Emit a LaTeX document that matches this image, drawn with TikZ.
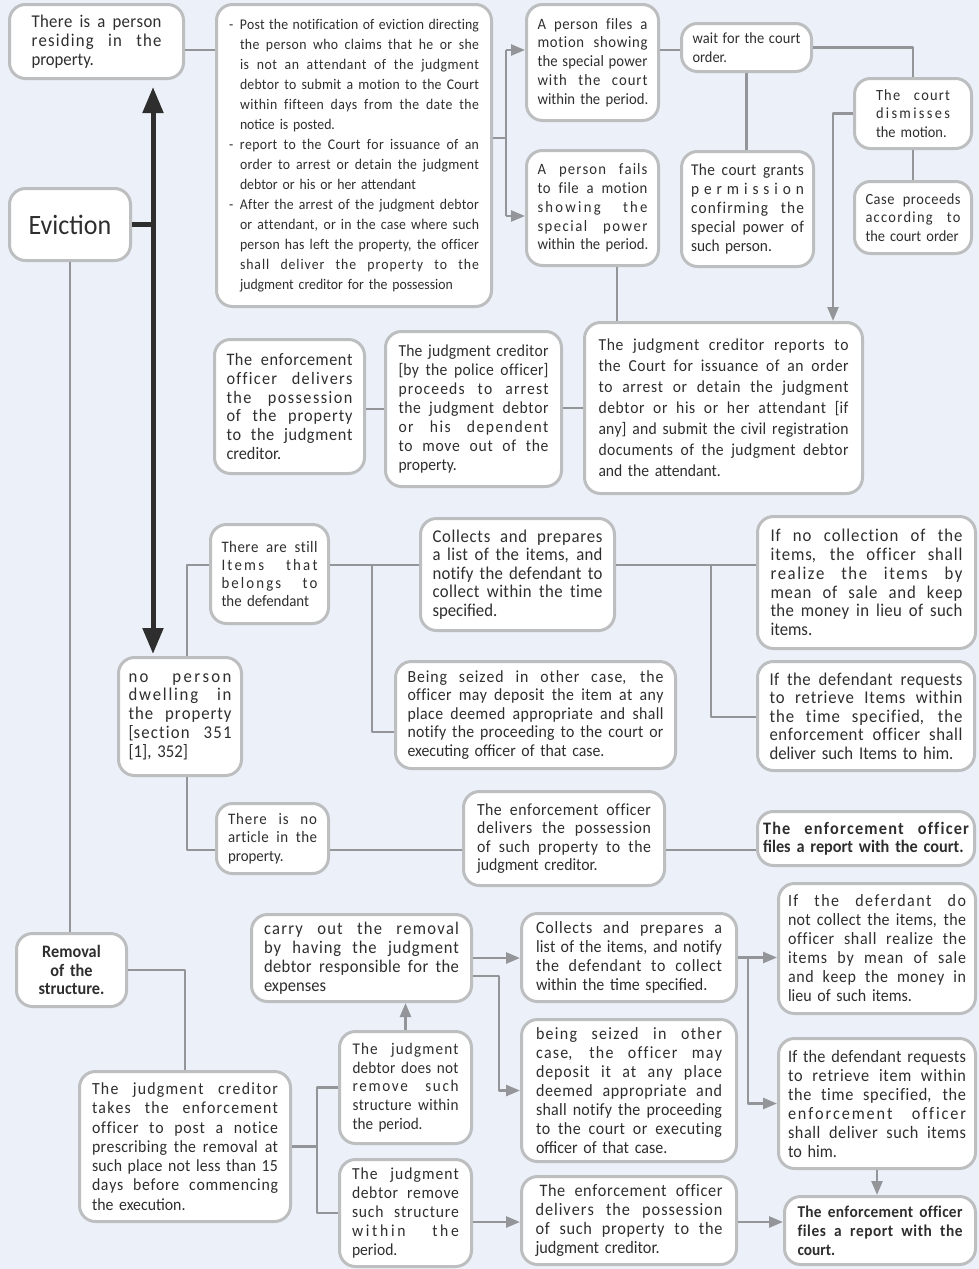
\documentclass[tikz,border=0pt]{standalone}
\usepackage{fontspec}
\setmainfont{Carlito}[FakeStretch=0.93]
\usetikzlibrary{arrows.meta}
\definecolor{bgblue}{HTML}{ECF1F9}
\definecolor{boxline}{HTML}{BCBEC0}
\definecolor{wiregray}{HTML}{939598}
\definecolor{ink}{HTML}{2E2E2E}
\count255=`a
\loop\XeTeXcharclass\count255=7 \ifnum\count255<`z\advance\count255 by 1\repeat
\count255=`A
\loop\XeTeXcharclass\count255=7 \ifnum\count255<`Z\advance\count255 by 1\repeat
\count255=`0
\loop\XeTeXcharclass\count255=7 \ifnum\count255<`9\advance\count255 by 1\repeat
\XeTeXinterchartoks 7 7 = {\hskip 0pt plus .12fil\relax}
\newcommand\tw{100pt}
\newcommand\jl[1]{\makebox[\tw][s]{\XeTeXinterchartokenstate=1 \spaceskip=.23em plus 1fil minus .04em\xspaceskip=\spaceskip #1}\\\relax}
\hyphenpenalty=10000
\begin{document}
\begin{tikzpicture}[x=1pt, y=-1pt, line join=round,
	box/.style={draw=boxline, line width=3pt, fill=white, rounded corners=16pt, inner xsep=2pt, inner ysep=2pt, align=left, text=ink},
	wh/.style n args={3}{minimum width=#1, minimum height=#2, text width=#3, execute at begin node={\renewcommand\tw{#3pt}}},
	fs/.style 2 args={font=\fontsize{#1}{#2}\selectfont},
	fsb/.style 2 args={font=\fontsize{#1}{#2}\selectfont\bfseries},
	wire/.style={draw=wiregray, line width=2.5pt},
	arr/.style={wire, -{Triangle[length=14pt,width=11pt]}},
	big/.style={draw=ink, line width=5pt}]
	\useasboundingbox (0,0) rectangle (979,1269);
	\fill[bgblue] (0,0) rectangle (979,1269);
	% eviction, person residing
	\node[box, minimum width=121, minimum height=72, fs={28}{30}] (evic) at (70,224.5) {Eviction};
	\node[box, wh={174}{74}{130}, fs={18}{19}] (start) at (96.5,41.5) {\jl{There is a person}\jl{residing in the}property.};
	\node[box, wh={275}{302}{250}, fs={14.8}{20}] (post) at (354,155.5) {%
		\jl{\makebox[11pt][l]{-}Post the notification of eviction directing}
		\jl{\hspace*{11pt}the person who claims that he or she}
		\jl{\hspace*{11pt}is not an attendant of the judgment}
		\jl{\hspace*{11pt}debtor to submit a motion to the Court}
		\jl{\hspace*{11pt}within fifteen days from the date the}
		\hspace*{11pt}notice is posted.\\
		\jl{\makebox[11pt][l]{-}report to the Court for issuance of an}
		\jl{\hspace*{11pt}order to arrest or detain the judgment}
		\hspace*{11pt}debtor or his or her attendant\\
		\jl{\makebox[11pt][l]{-}After the arrest of the judgment debtor}
		\jl{\hspace*{11pt}or attendant, or in the case where such}
		\jl{\hspace*{11pt}person has left the property, the officer}
		\jl{\hspace*{11pt}shall deliver the property to the}
		\hspace*{11pt}judgment creditor for the possession};
	\node[box, wh={132}{116}{110}, fs={15.8}{18.8}] (files) at (592.5,62.5) {\jl{A person files a}\jl{motion showing}\jl{the special power}\jl{with the court}\mbox{within the period.}};
	\node[box, wh={132}{115}{110}, fs={15.8}{18.8}] (fails) at (592.5,208) {\jl{A person fails}\jl{to file a motion}\jl{showing the}\jl{special power}\mbox{within the period.}};
	\node[box, wh={130}{48}{108}, fs={15.5}{19}] (wait) at (746.5,47.5) {\jl{wait for the court}order.};
	\node[box, wh={132}{115}{113}, fs={16.5}{18.8}] (grants) at (747.5,209) {\jl{The court grants}\jl{permission}\jl{confirming the}\jl{special power of}such person.};
	\node[box, wh={117}{70}{74}, fs={15.5}{18.5}] (dismiss) at (913,113.5) {\jl{The court}\jl{dismisses}the motion.};
	\node[box, wh={117}{72}{95}, fs={15.5}{18.3}] (caseproc) at (913,217.5) {\jl{Case proceeds}\jl{according to}\mbox{the court order}};
	% arrest row
	\node[box, wh={150}{134}{126}, fs={17.5}{18.7}] (enfdel) at (289.5,406.5) {\jl{The enforcement}\jl{officer delivers}\jl{the possession}\jl{of the property}\jl{to the judgment}creditor.};
	\node[box, wh={176}{155}{150}, fs={16.8}{19}] (police) at (473.5,409) {\jl{The judgment creditor}\jl{[by the police officer]}\jl{proceeds to arrest}\jl{the judgment debtor}\jl{or his dependent}\jl{to move out of the}property.};
	\node[box, wh={278}{171}{250}, fs={16.8}{21}] (reports) at (723.5,408) {\jl{The judgment creditor reports to}\jl{the Court for issuance of an order}\jl{to arrest or detain the judgment}\jl{debtor or his or her attendant [if}\jl{any] and submit the civil registration}\jl{documents of the judgment debtor}and the attendant.};
	% no person dwelling
	\node[box, wh={123}{118}{103}, fs={18}{18.7}] (nperson) at (180,716.5) {\jl{no person}\jl{dwelling in}\jl{the property}\jl{[section 351}[1], 352]};
	\node[box, wh={118}{99}{96}, fs={16}{18.3}] (items) at (269.5,574) {\jl{There are still}\jl{Items that}\jl{belongs to}the defendant};
	\node[box, wh={194}{112}{170}, fs={18}{18.5}] (collects1) at (517.5,574.5) {\jl{Collects and prepares}\jl{a list of the items, and}\jl{notify the defendant to}\jl{collect within the time}specified.};
	\node[box, wh={218}{132}{192}, fs={18}{18.7}] (ifno) at (866.5,582.5) {\jl{If no collection of the}\jl{items, the officer shall}\jl{realize the items by}\jl{mean of sale and keep}\jl{the money in lieu of such}items.};
	\node[box, wh={280}{107}{256}, fs={17}{18.5}] (seized1) at (535.5,715) {\jl{Being seized in other case, the}\jl{officer may deposit the item at any}\jl{place deemed appropriate and shall}\jl{notify the proceeding to the court or}executing officer of that case.};
	\node[box, wh={217}{109}{193}, fs={18}{18.5}] (requests1) at (866,716) {\jl{If the defendant requests}\jl{to retrieve Items within}\jl{the time specified, the}\jl{enforcement officer shall}deliver such Items to him.};
	\node[box, wh={112}{70}{89}, fs={16}{18.3}] (noart) at (272.5,838.5) {\jl{There is no}\jl{article in the}property.};
	\node[box, wh={201}{94}{174}, fs={17}{18.5}] (deliver2) at (564,838.5) {\jl{The enforcement officer}\jl{delivers the possession}\jl{of such property to the}judgment creditor.};
	\node[box, wh={217}{54}{206}, fsb={17.5}{18.5}] (report1) at (866,838.5) {\jl{The enforcement officer}\mbox{files a report with the court.}};
	% removal of the structure
	\node[box, wh={110}{73}{100}, fsb={17.5}{18.5}, align=center] (removal) at (71.5,970) {Removal\\of the\\structure.};
	\node[box, wh={211}{150}{186}, fs={17}{19.3}] (creditor) at (185,1146.5) {\jl{The judgment creditor}\jl{takes the enforcement}\jl{officer to post a notice}\jl{prescribing the removal at}\jl{such place not less than 15}\jl{days before commencing}the execution.};
	\node[box, wh={220}{87}{195}, fs={17.8}{19}] (carry) at (361.5,958) {\jl{carry out the removal}\jl{by having the judgment}\jl{debtor responsible for the}expenses};
	\node[box, wh={132}{112}{106}, fs={16.3}{18.8}] (notrem) at (405.5,1087.5) {\jl{The judgment}\jl{debtor does not}\jl{remove such}\jl{structure within}the period.};
	\node[box, wh={132}{107}{107}, fs={16.8}{18.8}] (remove) at (405.5,1213) {\jl{The judgment}\jl{debtor remove}\jl{such structure}\jl{within the}period.};
	\node[box, wh={215}{88}{186}, fs={17.2}{19}] (collects2) at (629,957.5) {\jl{Collects and prepares a}\jl{list of the items, and notify}\jl{the defendant to collect}\mbox{within the time specified.}};
	\node[box, wh={215}{142}{186}, fs={17.2}{19}] (seized2) at (629,1090.5) {\jl{being seized in other}\jl{case, the officer may}\jl{deposit it at any place}\jl{deemed appropriate and}\jl{shall notify the proceeding}\jl{to the court or executing}officer of that case.};
	\node[box, wh={215}{88}{187}, fs={17.5}{19}] (deliver3) at (629,1220.5) {\jl{\hspace*{4pt}The enforcement officer}\jl{delivers the possession}\jl{of such property to the}judgment creditor.};
	\node[box, wh={197}{130}{178}, fs={17.2}{19}] (deferd) at (877,948.5) {\jl{If the deferdant do}\jl{not collect the items, the}\jl{officer shall realize the}\jl{items by mean of sale}\jl{and keep the money in}lieu of such items.};
	\node[box, wh={197}{130}{178}, fs={17.5}{19}] (requests2) at (877,1103.5) {\jl{If the defendant requests}\jl{to retrieve item within}\jl{the time specified, the}\jl{enforcement officer}\jl{shall deliver such items}to him.};
	\node[box, wh={191}{68}{165}, fsb={16.5}{19}] (report2) at (880,1230.5) {\jl{The enforcement officer}\jl{files a report with the}court.};
	% rails
	\coordinate (ax) at (153,0);
	\coordinate (r1) at (0,50);
	\coordinate (r2) at (506,138);
	\coordinate (r3) at (506,50);
	\coordinate (r4) at (506,216);
	\coordinate (r5) at (833,0);
	\coordinate (r6) at (617,0);
	\coordinate (r8) at (187,565);
	\coordinate (r9) at (372,732);
	\coordinate (r10) at (711,717);
	\coordinate (r11) at (187,850);
	\coordinate (r12) at (317,0);
	\coordinate (r14) at (499,976);
	\coordinate (r15) at (0,1222);
	\coordinate (r16) at (748,0);
	% connectors
	\draw[big] (evic.east) -- (evic.east -| ax);
	\draw[big, {Triangle[length=26pt,width=20pt]}-{Triangle[length=26pt,width=20pt]}, shorten <=7pt, shorten >=2pt] (ax |- start.south) -- (ax |- nperson.north);
	\draw[wire] (evic.south) -- (evic.south |- removal.north);
	\draw[wire] (r1 -| start.east) -- (r1 -| post.west);
	\draw[wire] (r2 -| post.east) -- (r2);
	\draw[wire] (r3) -- (r4);
	\draw[arr] (r3) -- (r3 -| files.west);
	\draw[arr] (r4) -- (r4 -| fails.west);
	\draw[wire] (r3 -| files.east) -- (r3 -| wait.west);
	\draw[wire] (wait.east) -| (dismiss.north);
	\draw[wire] (wait.south) -- (wait.south |- grants.north);
	\draw[wire] (dismiss.south) -- (caseproc.north);
	\draw[arr] (dismiss.west) -| (r5 |- reports.north);
	\draw[wire] (r6 |- fails.south) -- (r6 |- reports.north);
	\draw[wire] (reports.west) -- (reports.west -| police.east);
	\draw[wire] (police.west) -- (police.west -| enfdel.east);
	\draw[wire] (r8 |- nperson.north) -- (r8) -- (r8 -| items.west);
	\draw[wire] (r8 -| items.east) -- (r8 -| collects1.west);
	\draw[wire] (r9 |- r8) -- (r9) -- (r9 -| seized1.west);
	\draw[wire] (r8 -| collects1.east) -- (r8 -| ifno.west);
	\draw[wire] (r10 |- r8) -- (r10) -- (r10 -| requests1.west);
	\draw[wire] (r11 |- nperson.south) -- (r11) -- (r11 -| noart.west);
	\draw[wire] (r11 -| noart.east) -- (r11 -| deliver2.west);
	\draw[wire] (r11 -| deliver2.east) -- (r11 -| report1.west);
	\draw[wire] (removal.east) -| (creditor.north);
	\draw[wire] (creditor.east) -- (creditor.east -| r12);
	\draw[wire] (notrem.west) -| (r12 |- creditor.east) |- (remove.west);
	\draw[arr] (notrem.north) -- (notrem.north |- carry.south);
	\draw[arr] (carry.east) -- (carry.east -| collects2.west);
	\draw[arr] (r14 -| carry.east) -- (r14) |- (seized2.west);
	\draw[arr] (r15 -| remove.east) -- (r15 -| deliver3.west);
	\draw[arr] (r15 -| deliver3.east) -- (r15 -| report2.west);
	\draw[arr] (collects2.east) -- (collects2.east -| deferd.west);
	\draw[arr] (r16 |- collects2.east) |- (requests2.west);
	\draw[arr] (requests2.south) -- (requests2.south |- report2.north);
\end{tikzpicture}
\end{document}
